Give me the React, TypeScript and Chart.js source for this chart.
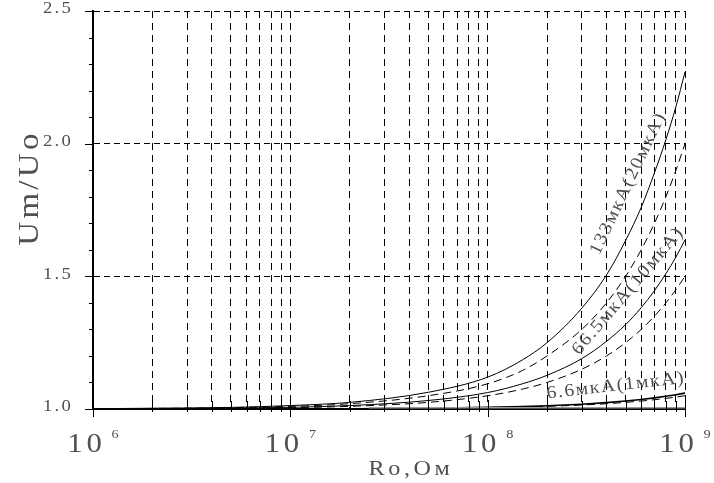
import React, { useEffect, useRef } from "react";
import { Chart, registerables } from "chart.js";

Chart.register(...registerables);

// ---- data ----
const xValues = [1e6, 2e6, 5e6, 1e7, 2e7, 5e7, 1e8, 1.5e8, 2e8, 3e8, 4e8, 5e8, 6e8, 7e8, 8e8, 9e8, 1e9];
const curve133 = [1.001, 1.003, 1.006, 1.013, 1.025, 1.063, 1.12, 1.185, 1.25, 1.38, 1.505, 1.635, 1.76, 1.89, 2.015, 2.14, 2.27];
const curve20 = [1.001, 1.002, 1.005, 1.01, 1.02, 1.05, 1.095, 1.145, 1.2, 1.3, 1.4, 1.5, 1.6, 1.7, 1.8, 1.9, 2.0];
const curve66 = [1.0006, 1.0013, 1.003, 1.0064, 1.013, 1.032, 1.062, 1.095, 1.127, 1.19, 1.255, 1.318, 1.382, 1.446, 1.51, 1.573, 1.637];
const curve10 = [1.0005, 1.001, 1.0025, 1.005, 1.01, 1.025, 1.05, 1.075, 1.1, 1.15, 1.2, 1.25, 1.3, 1.35, 1.4, 1.45, 1.5];
const curve6 = [1.0, 1.0001, 1.0003, 1.0006, 1.001, 1.003, 1.006, 1.009, 1.012, 1.018, 1.024, 1.03, 1.036, 1.042, 1.048, 1.054, 1.06];
const curve1 = [1.0, 1.0001, 1.0003, 1.0005, 1.001, 1.0025, 1.005, 1.0075, 1.01, 1.015, 1.02, 1.025, 1.03, 1.035, 1.04, 1.045, 1.05];
const greyX = [2.5e7, 1e9];
const greyY = [1.005, 1.005];

const xGridValues = [
  1e6, 2e6, 3e6, 4e6, 5e6, 6e6, 7e6, 8e6, 9e6,
  1e7, 2e7, 3e7, 4e7, 5e7, 6e7, 7e7, 8e7, 9e7,
  1e8, 2e8, 3e8, 4e8, 5e8, 6e8, 7e8, 8e8, 9e8,
  1e9,
];
const xDecades = [1e6, 1e7, 1e8, 1e9];
const xExponents = ["6", "7", "8", "9"];
const yGridValues = [1.0, 1.5, 2.0, 2.5];
const yTickLabels = ["1.0", "1.5", "2.0", "2.5"];
const yMinorValues = [1.0, 1.1, 1.2, 1.3, 1.4, 1.5, 1.6, 1.7, 1.8, 1.9, 2.0, 2.1, 2.2, 2.3, 2.4, 2.5];

const curveLabels = ["133мкА(20мкА)", "66.5мкА(10мкА)", "6.6мкА(1мкА)"];
const curveLabelX = [5.15e8, 5.14e8, 4.46e8];
const curveLabelY = [1.85, 1.445, 1.087];
const curveLabelAngle = [-64.5, -49.5, -6.5];

const xTitle = "Ro,Ом";
const yTitle = "Um/Uo";

const FONT = '"Times New Roman", "Liberation Serif", serif';
const TEXT_COLOR = "#505050";

function drawText(
  ctx: CanvasRenderingContext2D,
  s: string,
  x: number,
  y: number,
  size: number,
  angle = 0,
  align: CanvasTextAlign = "center",
  baseline: CanvasTextBaseline = "middle",
  sx = 1.1,
  spacing = 0
) {
  ctx.save();
  ctx.translate(x, y);
  ctx.rotate((angle * Math.PI) / 180);
  ctx.scale(sx, 1);
  ctx.font = `normal 400 ${size}px ${FONT}`;
  (ctx as any).letterSpacing = `${(size * spacing).toFixed(1)}px`;
  ctx.fillStyle = TEXT_COLOR;
  ctx.textAlign = align;
  ctx.textBaseline = baseline;
  ctx.fillText(s, 0, 0);
  ctx.restore();
}

function textWidth(ctx: CanvasRenderingContext2D, s: string, size: number, sx = 1.1, spacing = 0) {
  ctx.save();
  ctx.font = `normal 400 ${size}px ${FONT}`;
  (ctx as any).letterSpacing = `${(size * spacing).toFixed(1)}px`;
  const w = ctx.measureText(s).width * sx;
  ctx.restore();
  return w;
}

const decorPlugin = {
  id: "decor",
  afterDraw(chart: any) {
    const ctx: CanvasRenderingContext2D = chart.ctx;
    const xs = chart.scales.x;
    const ys = chart.scales.y;
    const area = chart.chartArea;
    ctx.save();
    ctx.strokeStyle = "#000";
    ctx.lineWidth = 1;
    ctx.setLineDash([]);
    // y ticks
    yMinorValues.forEach((v) => {
      const py = Math.round(ys.getPixelForValue(v)) + 0.5;
      const major = Math.abs(v * 2 - Math.round(v * 2)) < 1e-6;
      const len = major ? 8 : 4;
      ctx.beginPath();
      ctx.moveTo(area.left - len, py);
      ctx.lineTo(area.left, py);
      ctx.stroke();
    });
    // x ticks
    xGridValues.forEach((v) => {
      const px = Math.round(xs.getPixelForValue(v)) + 0.5;
      const dec = xDecades.includes(v);
      ctx.beginPath();
      ctx.moveTo(px, area.bottom - (dec ? 9 : 8));
      ctx.lineTo(px, area.bottom + (dec ? 8 : 3));
      ctx.stroke();
    });
    ctx.restore();

    // y tick labels
    yGridValues.forEach((v, i) => {
      const py = ys.getPixelForValue(v);
      drawText(ctx, yTickLabels[i], area.left - 20, py - 2, 17, 0, "right", "middle", 1.1, 0.12);
    });
    // x tick labels: 10 with exponent
    xDecades.forEach((v, i) => {
      const px = xs.getPixelForValue(v);
      const w10 = textWidth(ctx, "10", 28, 1.1, 0.12);
      const we = textWidth(ctx, xExponents[i], 13, 1.1, 0);
      const gap = 6;
      const start = px - (w10 + gap + we) / 2;
      drawText(ctx, "10", start, 452, 28, 0, "left", "alphabetic", 1.1, 0.12);
      drawText(ctx, xExponents[i], start + w10 + gap, 438, 13, 0, "left", "alphabetic", 1.1, 0);
    });
    // axis titles
    drawText(ctx, xTitle, 411, 475, 21, 0, "center", "alphabetic", 1.15, 0.15);
    drawText(ctx, yTitle, 30, 188, 30, -90, "center", "middle", 1.1, 0.1);
    // curve labels
    curveLabels.forEach((s, i) => {
      const px = xs.getPixelForValue(curveLabelX[i]);
      const py = ys.getPixelForValue(curveLabelY[i]);
      drawText(ctx, s, px, py, 18, curveLabelAngle[i], "center", "middle", 1.1, 0.08);
    });
  },
};

function pts(ys: number[]) {
  return xValues.map((x, i) => ({ x, y: ys[i] }));
}

export default function App() {
  const ref = useRef<HTMLCanvasElement | null>(null);
  useEffect(() => {
    if (!ref.current) return;
    const solid = (data: number[], w = 1) => ({
      data: pts(data),
      borderColor: "#000",
      borderWidth: w,
      pointRadius: 0,
      fill: false,
      cubicInterpolationMode: "monotone" as const,
    });
    const dashed = (data: number[]) => ({
      ...solid(data),
      borderDash: [8, 5],
    });
    const chart = new Chart(ref.current, {
      type: "line",
      data: {
        datasets: [
          {
            data: greyX.map((x, i) => ({ x, y: greyY[i] })),
            borderColor: "#9a9a9a",
            borderWidth: 1.5,
            pointRadius: 0,
          },
          solid(curve133),
          dashed(curve20),
          solid(curve66),
          dashed(curve10),
          solid(curve6, 1.6),
          dashed(curve1),
        ] as any,
      },
      options: {
        animation: false,
        responsive: false,
        layout: { padding: { left: 93, right: 29, top: 11, bottom: 74 } },
        plugins: { legend: { display: false }, tooltip: { enabled: false } },
        scales: {
          x: {
            type: "logarithmic",
            min: 1e6,
            max: 1e9,
            afterBuildTicks: (s: any) => {
              s.ticks = xGridValues.map((v) => ({ value: v }));
            },
            afterFit: (s: any) => {
              s.height = 0;
            },
            ticks: { display: false },
            grid: {
              drawTicks: false,
              lineWidth: 1,
              color: (c: any) => (c.tick && c.tick.value === 1e6 ? "rgba(0,0,0,0)" : "#000"),
            },
            border: { display: true, color: "#000", width: 2, dash: [7, 5] },
          },
          y: {
            type: "linear",
            min: 1,
            max: 2.5,
            afterBuildTicks: (s: any) => {
              s.ticks = yGridValues.map((v) => ({ value: v }));
            },
            afterFit: (s: any) => {
              s.width = 0;
            },
            ticks: { display: false },
            grid: {
              drawTicks: false,
              lineWidth: 1,
              color: (c: any) => (c.tick && c.tick.value === 1 ? "rgba(0,0,0,0)" : "#000"),
            },
            border: { display: true, color: "#000", width: 2, dash: [6, 4] },
          },
        },
      } as any,
      plugins: [decorPlugin],
    });
    return () => chart.destroy();
  }, []);
  return (
    <div style={{ position: "absolute", left: 0, top: 0, width: 714, height: 483, background: "#fff" }}>
      <canvas ref={ref} width={714} height={483} style={{ display: "block" }} />
    </div>
  );
}
